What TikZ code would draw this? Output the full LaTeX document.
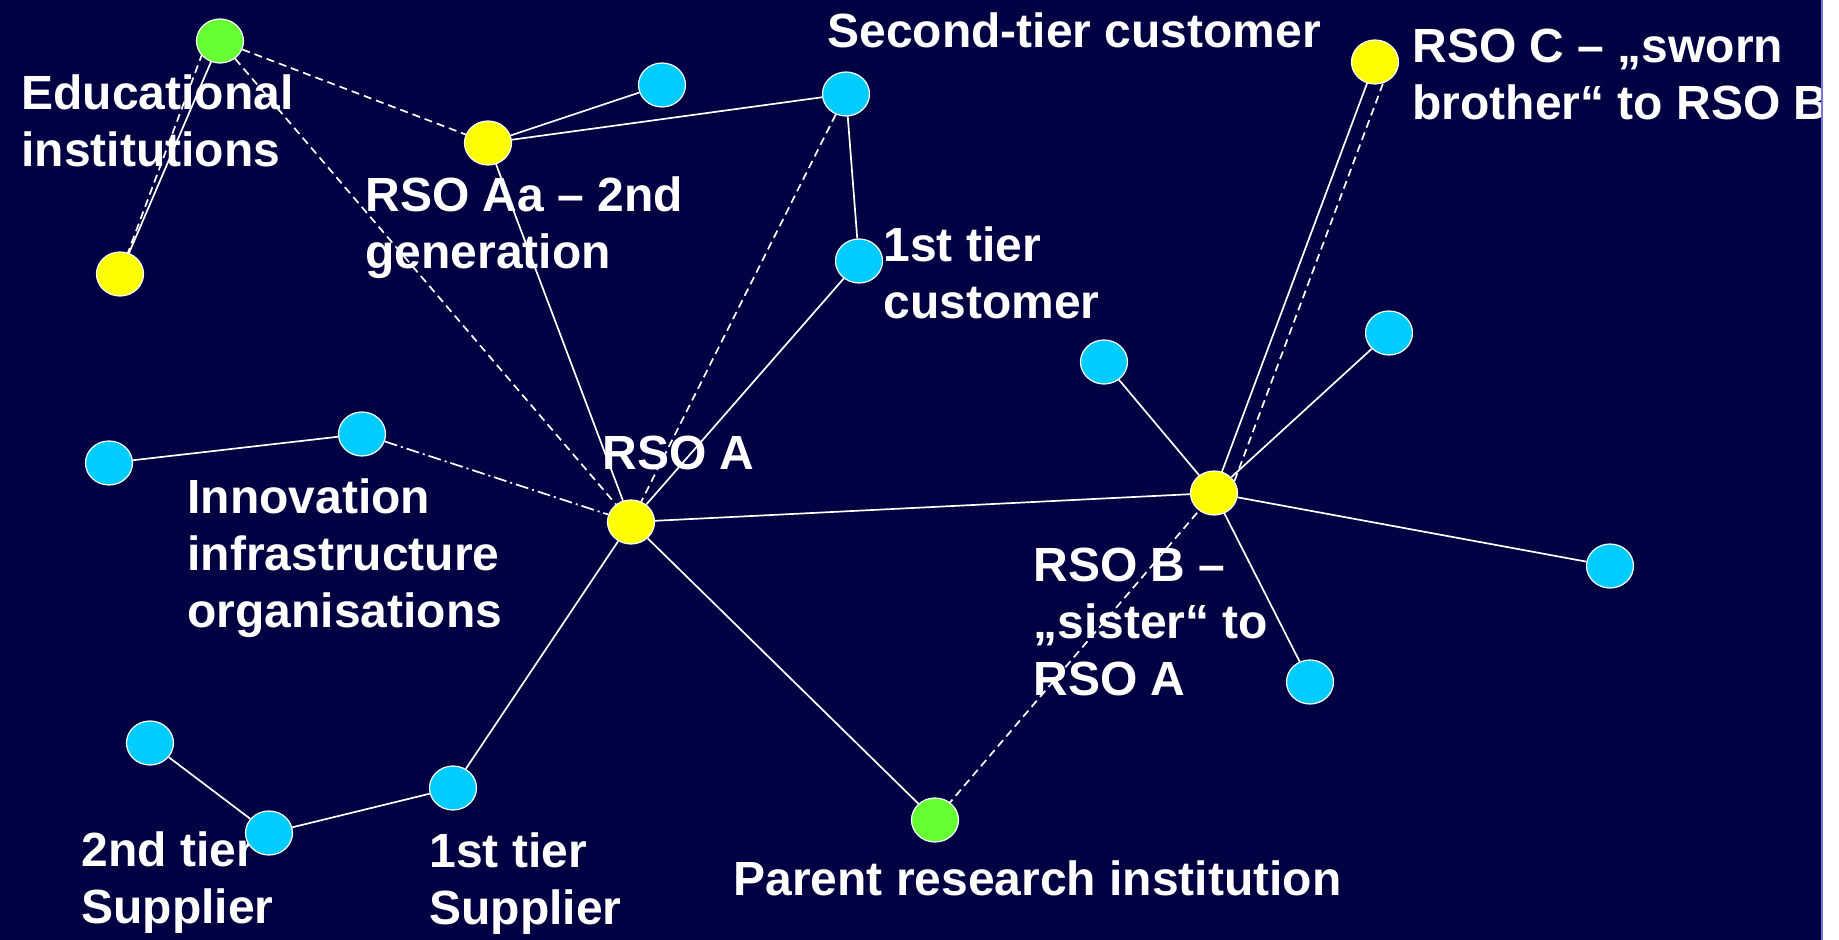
\documentclass[tikz,border=0pt]{standalone}
\usepackage{fontspec}
\setmainfont{Liberation Sans}
\usepackage{tikz}
\usetikzlibrary{shapes.geometric,backgrounds}

\definecolor{navy}{RGB}{0,0,66}
\definecolor{orgcyan}{RGB}{0,204,255}
\definecolor{orgyellow}{RGB}{255,255,0}
\definecolor{orggreen}{RGB}{102,255,51}
\definecolor{edgeblue}{RGB}{120,120,220}

\tikzset{
  org/.style={ellipse, draw=white, line width=0.6pt, inner sep=0pt,
    minimum width=23.5pt, minimum height=22pt},
  cyanorg/.style={org, fill=orgcyan},
  yelloworg/.style={org, fill=orgyellow},
  greenorg/.style={org, fill=orggreen},
  link/.style={white, line width=0.85pt},
  dlink/.style={link, dash pattern=on 4pt off 2.5pt},
  ddlink/.style={link, dash pattern=on 6.5pt off 2pt on 1pt off 2pt},
  lbl/.style={anchor=north west, inner sep=0pt, align=left, text=white,
    font=\bfseries\fontsize{24}{28.5}\selectfont},
}

\begin{document}
\begin{tikzpicture}[x=0.5pt,y=-0.5pt]
\useasboundingbox (0,0) rectangle (1839,940);

%Background
\begin{scope}[on background layer]
\fill[navy] (0,0) rectangle (1821,940);
\end{scope}

%Organisations
\node[greenorg]  (edu)    at (220,41)   {};
\node[yelloworg] (eduy)   at (120,274)  {};
\node[yelloworg] (rsoaa)  at (488,143)  {};
\node[cyanorg]   (aac)    at (662,85)   {};
\node[cyanorg]   (cust2)  at (846,94)   {};
\node[cyanorg]   (cust1)  at (859,261)  {};
\node[yelloworg] (rsoc)   at (1375,62)  {};
\node[cyanorg]   (inno1)  at (109,463)  {};
\node[cyanorg]   (inno2)  at (362,434)  {};
\node[yelloworg] (rsoa)   at (631,522)  {};
\node[cyanorg]   (sup2a)  at (150,743)  {};
\node[cyanorg]   (sup2)   at (269,833)  {};
\node[cyanorg]   (sup1)   at (453,788)  {};
\node[yelloworg] (rsob)   at (1214,493) {};
\node[cyanorg]   (bc1)    at (1104,362) {};
\node[cyanorg]   (bc2)    at (1389,333) {};
\node[cyanorg]   (bc3)    at (1610,566) {};
\node[cyanorg]   (bc4)    at (1310,682) {};
\node[greenorg]  (parent) at (935,820)  {};

%Links
\begin{scope}[on background layer]
\draw[link]   (edu.center) -- (eduy.center);
\draw[dlink]  ([xshift=-6.5pt]edu.center) -- (eduy.center);
\draw[dlink]  (edu) -- (rsoaa);
\draw[dlink]  (edu) -- (rsoa);
\draw[link]   (rsoaa) -- (aac);
\draw[link]   (rsoaa) -- (cust2);
\draw[link]   (rsoaa) -- (rsoa);
\draw[link]   (cust2) -- (cust1);
\draw[dlink]  (cust2) -- (rsoa);
\draw[link]   (cust1) -- (rsoa);
\draw[link]   (inno1) -- (inno2);
\draw[ddlink] (inno2) -- (rsoa);
\draw[link]   (rsoa) -- (rsob);
\draw[link]   (rsoa) -- (sup1);
\draw[link]   (rsoa) -- (parent);
\draw[link]   (sup1) -- (sup2);
\draw[link]   (sup2) -- (sup2a);
\draw[link]   (rsob) -- (bc1);
\draw[link]   (rsob) -- (bc2);
\draw[link]   (rsob) -- (bc3);
\draw[link]   (rsob) -- (bc4);
\draw[link]   (rsob.center) -- (rsoc.center);
\draw[dlink]  ([xshift=8pt]rsob.center) -- ([xshift=8pt]rsoc.center);
\draw[dlink]  (rsob.center) -- (parent);
% Text Node
\node[lbl] (edulbl)    at (21,74)    {Educational\\institutions};
\node[lbl] (rsoaalbl)  at (365,176)  {RSO Aa – 2nd\\generation};
\node[lbl] (cust2lbl)  at (827,12)   {Second-tier customer};
\node[lbl] (cust1lbl)  at (883,226)  {1st tier\\customer};
\node[lbl] (rsoclbl)   at (1412,29)  {RSO C – „sworn\\brother“ to RSO B};
\node[lbl] (rsoalbl)   at (602,436)  {RSO A};
\node[lbl] (innolbl)   at (187,478)  {Innovation\\infrastructure\\organisations};
\node[lbl] (sup2lbl)   at (81,831)   {2nd tier\\Supplier};
\node[lbl] (sup1lbl)   at (429,832)  {1st tier\\Supplier};
\node[lbl] (parentlbl) at (733,860)  {Parent research institution};
\node[lbl] (rsoblbl)   at (1033,548) {RSO B –\\„sister“ to\\RSO A};
\end{scope}

%Right margin
\fill[white] (1821,0) rectangle (1839,940);
\fill[edgeblue] (1821,0) rectangle (1823,940);

\end{tikzpicture}
\end{document}
